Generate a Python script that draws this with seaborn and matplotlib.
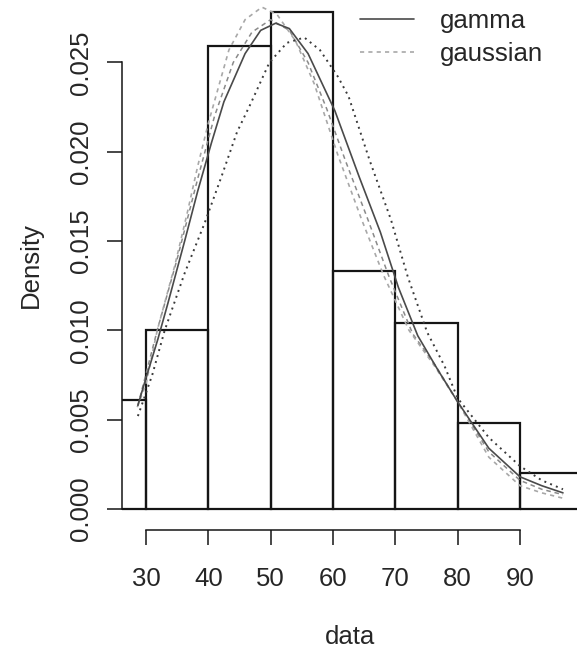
import matplotlib
matplotlib.use("Agg")
import matplotlib.pyplot as plt
import seaborn as sns
from matplotlib.lines import Line2D

# ---- data ----
bin_edges = [20, 30, 40, 50, 60, 70, 80, 90, 100]
bin_density = [0.0061, 0.0100, 0.0259, 0.0278, 0.0133, 0.0104, 0.0048, 0.0020]

# light dashed curve (gaussian)
gauss_x = [28.6, 30.0, 31.8, 34.6, 36.7, 38.3, 40.0, 43.3, 45.9, 48.6, 51.0, 54.0, 57.0,
           60.8, 64.6, 68.1, 72.2, 76.3, 80.0, 85.0, 90.0, 93.5, 96.9]
gauss_y = [0.0057, 0.0070, 0.0100, 0.0136, 0.0167, 0.0192, 0.0216, 0.0257, 0.0274, 0.0281,
           0.0277, 0.0262, 0.0238, 0.0198, 0.0162, 0.0131, 0.0100, 0.0080, 0.0060, 0.0029,
           0.0013, 0.0009, 0.0006]

# solid curve (gamma)
gamma_x = [28.7, 29.8, 31.9, 33.5, 36.2, 38.3, 40.5, 42.5, 45.9, 48.4, 50.8, 53.0, 56.0,
           60.3, 64.2, 67.6, 70.5, 73.6, 76.8, 80.0, 85.0, 90.0, 93.5, 96.9]
gamma_y = [0.0058, 0.0071, 0.0095, 0.0115, 0.0150, 0.0178, 0.0205, 0.0228, 0.0255, 0.0268,
           0.0272, 0.0269, 0.0255, 0.0223, 0.0186, 0.0155, 0.0124, 0.0097, 0.0078, 0.0060,
           0.0034, 0.0018, 0.0013, 0.0009]

# medium dashed curve
mid_x = [28.7, 31.8, 35.0, 38.3, 41.0, 44.0, 47.0, 50.0, 53.0, 56.0, 59.0, 62.0, 65.5,
         69.0, 72.8, 76.5, 80.0, 85.0, 90.0, 93.5, 96.9]
mid_y = [0.0058, 0.0100, 0.0140, 0.0185, 0.0220, 0.0250, 0.0267, 0.0274, 0.0268, 0.0250,
         0.0224, 0.0195, 0.0163, 0.0130, 0.0098, 0.0080, 0.0060, 0.0032, 0.0016, 0.0011,
         0.0008]

# dark dotted curve
dot_x = [28.7, 31.0, 33.0, 36.2, 39.4, 42.1, 44.6, 46.8, 49.8, 52.6, 55.4, 57.9, 60.8,
         62.5, 65.9, 69.3, 72.0, 75.1, 77.9, 80.0, 85.0, 90.0, 93.5, 96.9]
dot_y = [0.0052, 0.0075, 0.0100, 0.0132, 0.0160, 0.0186, 0.0211, 0.0227, 0.0250, 0.0261,
         0.0264, 0.0257, 0.0242, 0.0231, 0.0195, 0.0162, 0.0130, 0.0099, 0.0080, 0.0062,
         0.0040, 0.0024, 0.0016, 0.0011]

x_ticks = [30, 40, 50, 60, 70, 80, 90]
y_ticks = [0.000, 0.005, 0.010, 0.015, 0.020, 0.025]
y_tick_labels = ["0.000", "0.005", "0.010", "0.015", "0.020", "0.025"]
legend_labels = ["gamma", "gaussian"]
x_label = "data"
y_label = "Density"

# ---- styling ----
sns.set_theme(style="white")
plt.rcParams["font.family"] = ["Liberation Sans", "DejaVu Sans"]

FS = 18.5
INK = "#151515"
TXT = "#262626"

fig = plt.figure(figsize=(5.77, 6.57), dpi=100)
ax = fig.add_axes([122 / 577, 1 - 530 / 657, 1 - 122 / 577, 530 / 657])

centers = [(a + b) / 2 for a, b in zip(bin_edges[:-1], bin_edges[1:])]
sns.histplot(x=centers, weights=bin_density, bins=bin_edges, stat="count",
             fill=False, color=INK, edgecolor=INK, linewidth=1.6, ax=ax)

sns.lineplot(x=mid_x, y=mid_y, ax=ax, color="#8a8a8a", linewidth=1.1,
             linestyle=(0, (3, 2.5)))
sns.lineplot(x=gauss_x, y=gauss_y, ax=ax, color="#a8a8a8", linewidth=1.2,
             linestyle=(0, (2.5, 2.5)))
sns.lineplot(x=gamma_x, y=gamma_y, ax=ax, color="#4a4a4a", linewidth=1.2,
             linestyle="-")
sns.lineplot(x=dot_x, y=dot_y, ax=ax, color="#3a3a3a", linewidth=1.4,
             linestyle=(0, (1, 2.2)))

ax.set_xlim(26.15, 99.15)
ax.set_ylim(-0.00118, 0.0285)

for s in ["top", "right"]:
    ax.spines[s].set_visible(False)
ax.spines["left"].set_bounds(0, 0.025)
ax.spines["bottom"].set_bounds(30, 90)
for s in ["left", "bottom"]:
    ax.spines[s].set_color(INK)
    ax.spines[s].set_linewidth(1.1)

ax.set_xticks(x_ticks)
ax.set_yticks(y_ticks, labels=y_tick_labels)
ax.tick_params(axis="both", direction="out", length=10.8, width=1.1, color=INK,
               labelsize=FS, labelcolor=TXT, bottom=True, left=True)
ax.tick_params(axis="x", pad=16)
ax.tick_params(axis="y", pad=10, labelrotation=90)
for lab in ax.get_yticklabels():
    lab.set_va("center")

ax.set_xlabel(x_label, fontsize=FS, color=TXT, labelpad=24)
ax.set_ylabel(y_label, fontsize=FS, color=TXT, labelpad=19)
ax.grid(False)

handles = [Line2D([], [], color="#4a4a4a", linewidth=1.2, linestyle="-"),
           Line2D([], [], color="#a8a8a8", linewidth=1.2, linestyle=(0, (2.5, 2.5)))]
ax.legend(handles, legend_labels, loc="upper left",
          bbox_to_anchor=(342 / 577, 1.0 + 9 / 657), bbox_transform=fig.transFigure,
          frameon=False, fontsize=FS, handlelength=2.1, handletextpad=1.0,
          labelspacing=0.35, borderpad=0.2, labelcolor=TXT)

fig.savefig("out.png", dpi=100)
